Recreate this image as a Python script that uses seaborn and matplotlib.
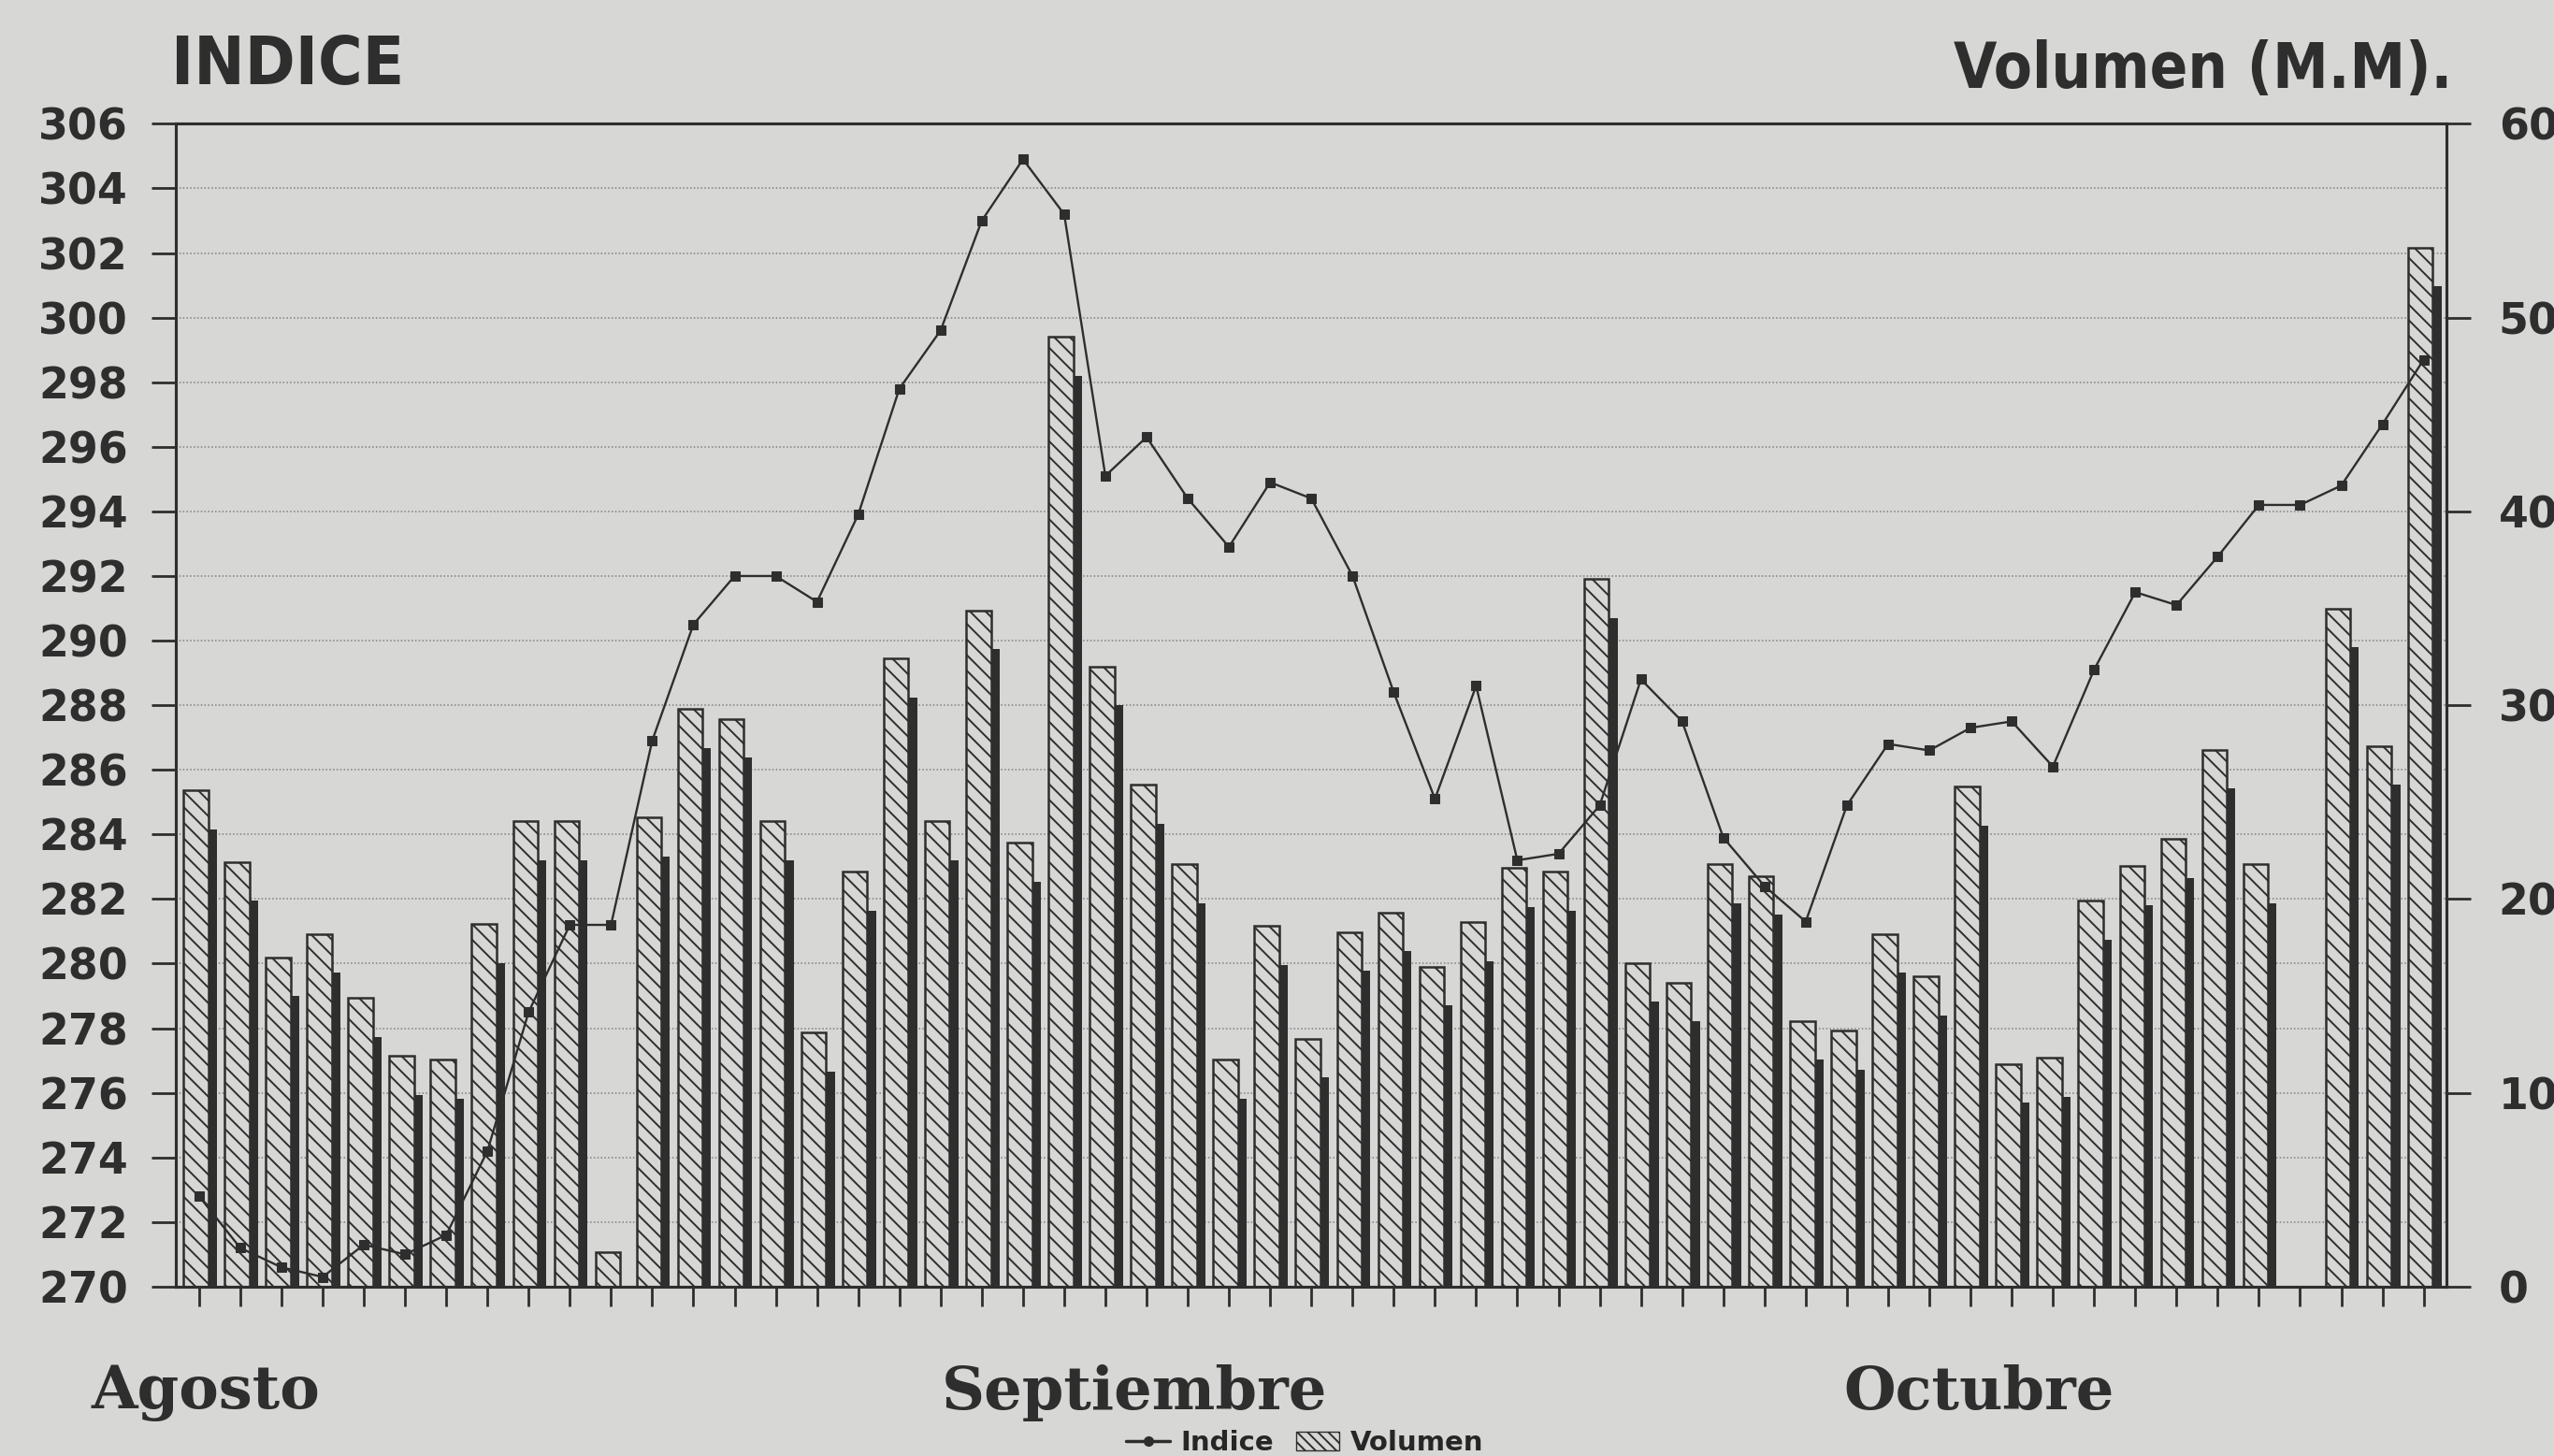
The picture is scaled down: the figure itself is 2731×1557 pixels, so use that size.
import numpy as np
import pandas as pd
import matplotlib.pyplot as plt
import matplotlib.transforms as mtransforms
from matplotlib.patches import Patch
from matplotlib.lines import Line2D
import seaborn as sns

# dias de sesion (agosto - octubre), el hueco 51 no tiene volumen
dias = list(range(55))
indice = [272.8, 271.2, 270.6, 270.3, 271.3, 271.0, 271.6, 274.2, 278.5, 281.2,
          281.2, 286.9, 290.5, 292.0, 292.0, 291.2, 293.9, 297.8, 299.6, 303.0,
          304.9, 303.2, 295.1, 296.3, 294.4, 292.9, 294.9, 294.4, 292.0, 288.4,
          285.1, 288.6, 283.2, 283.4, 284.9, 288.8, 287.5, 283.9, 282.4, 281.3,
          284.9, 286.8, 286.6, 287.3, 287.5, 286.1, 289.1, 291.5, 291.1, 292.6,
          294.2, 294.2, 294.8, 296.7, 298.7]
volumen = [25.6, 21.9, 17.0, 18.2, 14.9, 11.9, 11.7, 18.7, 24.0, 24.0,
           1.8, 24.2, 29.8, 29.3, 24.0, 13.1, 21.4, 32.4, 24.0, 34.9,
           22.9, 49.0, 32.0, 25.9, 21.8, 11.7, 18.6, 12.8, 18.3, 19.3,
           16.5, 18.8, 21.6, 21.4, 36.5, 16.7, 15.7, 21.8, 21.2, 13.7,
           13.2, 18.2, 16.0, 25.8, 11.5, 11.8, 19.9, 21.7, 23.1, 27.7,
           21.8, np.nan, 35.0, 27.9, 53.6]
meses = ['Agosto', 'Septiembre', 'Octubre']
meses_x = [0.16, 22.7, 43.2]

bg = '#d7d7d5'
ink = '#2e2e2e'

sns.set_theme(style='ticks')
plt.rcParams['font.family'] = ['DejaVu Sans']
plt.rcParams['hatch.linewidth'] = 1.4
plt.rcParams['hatch.color'] = ink

df = pd.DataFrame({'dia': dias, 'indice': indice, 'volumen': volumen})
df['sombra_x'] = df['dia'] + 0.13
df['sombra'] = df['volumen'] - 2.0
df['barra_x'] = df['dia'] - 0.08

fig, ax = plt.subplots(figsize=(27.31, 15.57), dpi=100)
fig.patch.set_facecolor(bg)
fig.subplots_adjust(left=0.0689, right=0.958, bottom=0.1163, top=0.915)
ax2 = ax.twinx()
ax.set_zorder(ax2.get_zorder() + 1)
ax.patch.set_visible(False)
ax2.patch.set_visible(False)

# barras de volumen con sombra oscura a la derecha
sns.barplot(data=df, x='sombra_x', y='sombra', native_scale=True, width=0.6,
            color=ink, saturation=1, errorbar=None, linewidth=0, ax=ax2)
sns.barplot(data=df, x='barra_x', y='volumen', native_scale=True, width=0.6,
            color=bg, saturation=1, errorbar=None, edgecolor=ink, linewidth=1.8,
            hatch='\\\\', ax=ax2)

# linea del indice
sns.lineplot(data=df, x='dia', y='indice', ax=ax, color=ink, linewidth=1.7,
             marker='s', markersize=7, markeredgecolor=ink, markerfacecolor=ink)

ax.set_xlim(-0.56, 54.56)
ax.set_ylim(270, 306)
ax2.set_ylim(0, 60)
ax.set_yticks(range(270, 307, 2))
ax2.set_yticks(range(0, 61, 10))
ax2.set_yticks(np.arange(10 / 3, 60, 10 / 3), minor=True)
ax.set_xticks(dias)
ax.set_xticklabels([])
for a in (ax, ax2):
    a.set_xlabel('')
    a.set_ylabel('')
    for s in a.spines.values():
        s.set_visible(True)
        s.set_color(ink)
        s.set_linewidth(2.2)

ax2.set_axisbelow(True)
ax2.grid(which='both', axis='y', color='#808080', linestyle=(0, (1, 1.5)), linewidth=1.1)

ax.tick_params(axis='x', bottom=True, direction='out', length=15, width=2, color=ink)
ax.tick_params(axis='y', left=True, direction='out', length=19, width=2, color=ink,
               pad=18, labelsize=33, labelcolor=ink)
ax2.tick_params(axis='y', which='major', right=True, direction='out', length=19, width=2,
                color=ink, pad=21, labelsize=33, labelcolor=ink)
ax2.tick_params(axis='y', which='minor', length=0)
for lbl in ax.get_yticklabels() + ax2.get_yticklabels():
    lbl.set_fontweight('bold')

fig.text(0.067, 0.955, 'INDICE', ha='left', va='center', fontsize=52,
         fontweight='bold', fontstretch='condensed', color=ink, family=['DejaVu Sans'])
fig.text(0.96, 0.952, 'Volumen (M.M).', ha='right', va='center', fontsize=48,
         fontweight='bold', fontstretch='condensed', color=ink, family=['DejaVu Sans'])

trans = mtransforms.blended_transform_factory(ax.transData, fig.transFigure)
for m, mx in zip(meses, meses_x):
    ax.text(mx, 0.0436, m, transform=trans, ha='center', va='center', fontsize=46,
            fontweight='bold', color=ink, family=['DejaVu Serif'])

handles = [Line2D([], [], color=ink, marker='o', markersize=7, linewidth=2.5),
           Patch(facecolor=bg, edgecolor=ink, hatch='\\\\\\')]
fig.legend(handles, ['Indice', 'Volumen'], loc='center', bbox_to_anchor=(0.511, 0.009),
           ncol=2, frameon=False, prop={'size': 21, 'weight': 'bold'},
           handlelength=1.6, columnspacing=0.8, handletextpad=0.4)

fig.savefig('out.png', dpi=100, facecolor=bg)
